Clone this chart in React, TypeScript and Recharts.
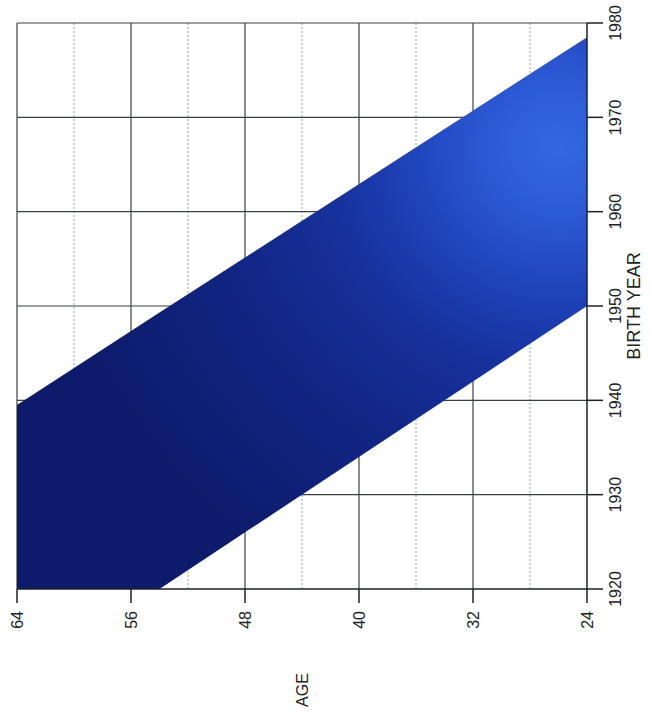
import React from "react";
import {
  ComposedChart, Area, XAxis, YAxis, CartesianGrid, Label,
} from "recharts";

// edges of the shaded cohort band (birth year range for each age)
const AGES = [24, 54, 64];
const BIRTH_LOW = [1950, 1920, 1920];
const BIRTH_HIGH = [1978.5, 1949.3, 1939.5];

const AGE_TICKS = [64, 56, 48, 40, 32, 24];
const AGE_MINOR = [60, 52, 44, 36, 28];
const AGE_MAJOR_GRID = [64, 56, 48, 40, 32];
const YEAR_TICKS = [1920, 1930, 1940, 1950, 1960, 1970, 1980];
const YEAR_GRID = [1930, 1940, 1950, 1960, 1970, 1980];

const data = AGES.map((age, i) => ({ age, band: [BIRTH_LOW[i], BIRTH_HIGH[i]] }));

const FONT = "'Liberation Sans', Arial, sans-serif";
const INK = "#1e2222";

const AgeTick = ({ x, y, payload }: any) => (
  <text
    transform={`translate(${x},${y}) rotate(-90)`}
    textAnchor="end"
    dy="0.35em"
    fontSize={16}
    fontFamily={FONT}
    fill={INK}
  >
    {payload.value}
  </text>
);

const YearTick = ({ x, y, payload }: any) => (
  <text
    transform={`translate(${x},${y}) rotate(-90)`}
    textAnchor="middle"
    fontSize={16}
    fontFamily={FONT}
    fill={INK}
  >
    {payload.value}
  </text>
);

const AgeLabel = ({ viewBox }: any) => {
  const cx = viewBox.x + viewBox.width / 2;
  const cy = viewBox.y + 101;
  return (
    <text
      x={cx}
      y={cy}
      transform={`rotate(-90, ${cx}, ${cy})`}
      textAnchor="middle"
      dy="0.35em"
      fontSize={16}
      fontFamily={FONT}
      fill={INK}
    >
      AGE
    </text>
  );
};

const YearLabel = ({ viewBox }: any) => {
  const cx = viewBox.x + 47;
  const cy = viewBox.y + viewBox.height / 2;
  return (
    <text
      x={cx}
      y={cy}
      transform={`rotate(-90, ${cx}, ${cy})`}
      textAnchor="middle"
      dy="0.35em"
      fontSize={18}
      fontFamily={FONT}
      fill={INK}
    >
      BIRTH YEAR
    </text>
  );
};

export default function App() {
  return (
    <div style={{ position: "absolute", left: 0, top: 0, background: "#fff" }}>
      <ComposedChart
        width={650}
        height={713}
        data={data}
        margin={{ top: 23, right: 10, bottom: 64, left: 17 }}
      >
        <defs>
          <radialGradient id="bandFill" cx="0.95" cy="0.2" r="0.9" fx="0.95" fy="0.2">
            <stop offset="0" stopColor="#3467e2" />
            <stop offset="0.12" stopColor="#2d5cd8" />
            <stop offset="0.3" stopColor="#1e42b8" />
            <stop offset="0.45" stopColor="#17319c" />
            <stop offset="0.68" stopColor="#112583" />
            <stop offset="1" stopColor="#0d1b6c" />
          </radialGradient>
        </defs>
        <CartesianGrid
          horizontal={false}
          verticalValues={AGE_MINOR}
          stroke="#8fa3a8"
          strokeDasharray="2 2"
        />
        <CartesianGrid
          verticalValues={AGE_MAJOR_GRID}
          horizontalValues={YEAR_GRID}
          stroke="#3a4040"
          strokeWidth={1.2}
        />
        <XAxis
          dataKey="age"
          type="number"
          domain={[24, 64]}
          reversed
          ticks={AGE_TICKS}
          interval={0}
          height={60}
          tickSize={14}
          tickMargin={8}
          tick={<AgeTick />}
          axisLine={{ stroke: INK, strokeWidth: 1.5 }}
          tickLine={{ stroke: INK, strokeWidth: 1.5 }}
        >
          <Label content={<AgeLabel />} />
        </XAxis>
        <YAxis
          orientation="right"
          type="number"
          domain={[1920, 1980]}
          ticks={YEAR_TICKS}
          interval={0}
          width={53}
          tickSize={16}
          tickMargin={18}
          tick={<YearTick />}
          axisLine={{ stroke: INK, strokeWidth: 1.5 }}
          tickLine={{ stroke: INK, strokeWidth: 1.5 }}
        >
          <Label content={<YearLabel />} />
        </YAxis>
        <Area
          type="linear"
          dataKey="band"
          stroke="none"
          fill="url(#bandFill)"
          fillOpacity={1}
          isAnimationActive={false}
          dot={false}
          activeDot={false}
        />
      </ComposedChart>
    </div>
  );
}
